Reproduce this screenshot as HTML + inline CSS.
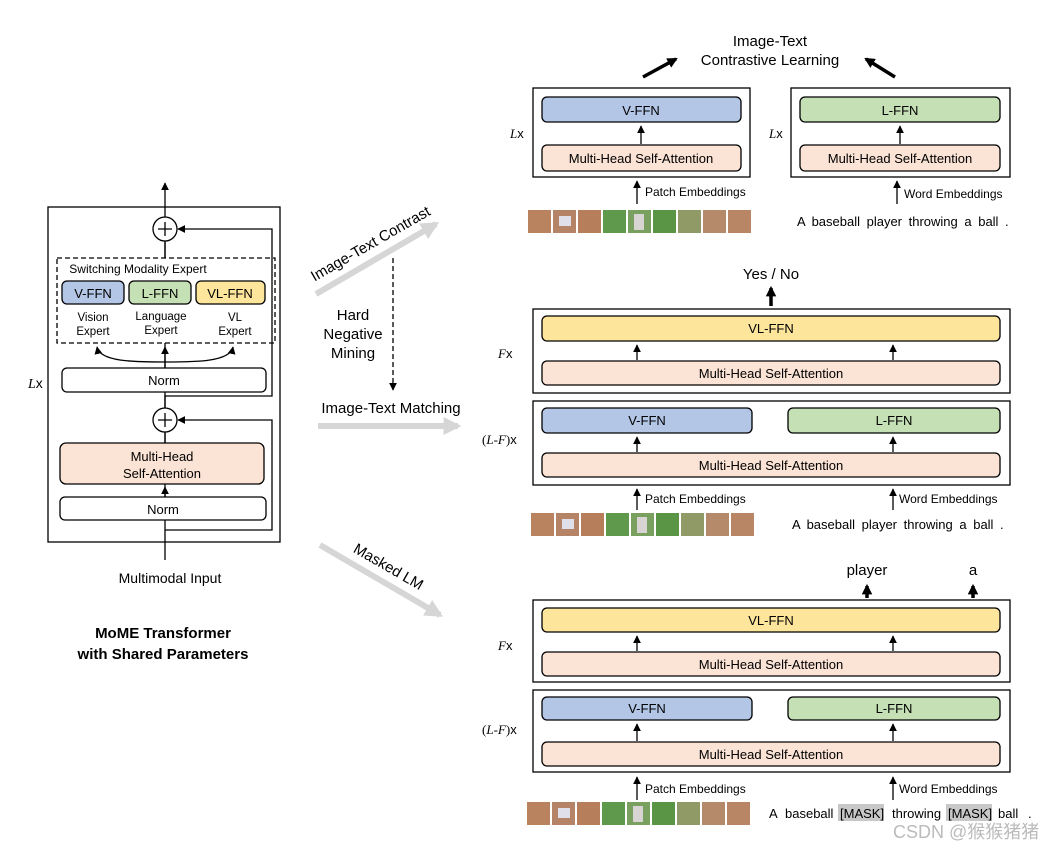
<!DOCTYPE html>
<html><head><meta charset="utf-8"><style>
html,body{margin:0;padding:0;background:#fff;}
svg{display:block;font-family:"Liberation Sans",sans-serif;}
</style></head><body>
<svg width="1052" height="849" viewBox="0 0 1052 849" xmlns="http://www.w3.org/2000/svg">
<defs>
<marker id="a" viewBox="0 0 10 10" refX="9" refY="5" markerWidth="6" markerHeight="6" orient="auto"><path d="M0,0 L10,5 L0,10 z" fill="#000"/></marker>
<marker id="g" viewBox="0 0 10 10" refX="8" refY="5" markerWidth="3" markerHeight="3" orient="auto"><path d="M0,0 L10,5 L0,10 z" fill="#d6d6d6"/></marker>
<marker id="b" viewBox="0 0 10 10" refX="8" refY="5" markerWidth="3" markerHeight="3" orient="auto"><path d="M0,0 L10,5 L0,10 z" fill="#000"/></marker>
<g id="patches">
<rect x="0" y="0" width="23" height="23" fill="#b98360"/>
<rect x="25" y="0" width="23" height="23" fill="#b58366"/><rect x="31" y="6" width="12" height="10" fill="#dfe0ea"/>
<rect x="50" y="0" width="23" height="23" fill="#b67e5a"/>
<rect x="75" y="0" width="23" height="23" fill="#5f9a4c"/>
<rect x="100" y="0" width="23" height="23" fill="#7aa060"/><rect x="106" y="4" width="10" height="16" fill="#d8d4d4"/>
<rect x="125" y="0" width="23" height="23" fill="#5a9546"/>
<rect x="150" y="0" width="23" height="23" fill="#8f9a66"/>
<rect x="175" y="0" width="23" height="23" fill="#b58a6a"/>
<rect x="200" y="0" width="23" height="23" fill="#b88565"/>
</g>
</defs>
<g fill="none" stroke="#000" stroke-width="1.3">
<rect x="48" y="207" width="232" height="335"/>
<line x1="165" y1="560" x2="165" y2="183" marker-end="url(#a)"/>
<circle cx="165" cy="229" r="12" fill="#fff"/>
<circle cx="165" cy="420" r="12" fill="#fff"/>
<path d="M165,229 m-7,0 h14 M165,222 v14 M165,420 m-7,0 h14 M165,413 v14"/>
<rect x="57" y="258" width="218" height="85" stroke-dasharray="5,3" fill="#fff"/>
<path d="M165,396 H272 V229 H178" marker-end="url(#a)"/>
<path d="M165,530 H272 V420 H178" marker-end="url(#a)"/>
<line x1="165" y1="368" x2="165" y2="347" marker-end="url(#a)"/>
<path d="M165,362 C135,362 100,362 97,347" marker-end="url(#a)"/>
<path d="M165,362 C195,362 230,362 233,347" marker-end="url(#a)"/>
<line x1="165" y1="497" x2="165" y2="487" marker-end="url(#a)"/>
<line x1="165" y1="408" x2="165" y2="395"/>
<line x1="165" y1="443" x2="165" y2="432"/>
<line x1="165" y1="258" x2="165" y2="241"/>
<rect x="62" y="281" width="62" height="23" rx="5" fill="#b4c6e6"/>
<rect x="129" y="281" width="62" height="23" rx="5" fill="#c6e0b6"/>
<rect x="196" y="281" width="69" height="23" rx="5" fill="#fde59c"/>
<rect x="62" y="368" width="204" height="24" rx="5" fill="#fff"/>
<rect x="60" y="443" width="204" height="41" rx="6" fill="#fbe3d5"/>
<rect x="60" y="497" width="206" height="23" rx="5" fill="#fff"/>
</g>
<g font-size="13" text-anchor="middle" fill="#000">
<text x="138" y="273" font-size="12">Switching Modality Expert</text>
<text x="93" y="298">V-FFN</text><text x="160" y="298">L-FFN</text><text x="230" y="298">VL-FFN</text>
<text x="93" y="321" font-size="11.5">Vision</text><text x="93" y="335" font-size="11.5">Expert</text>
<text x="161" y="320" font-size="11.5">Language</text><text x="161" y="334" font-size="11.5">Expert</text>
<text x="235" y="321" font-size="11.5">VL</text><text x="235" y="335" font-size="11.5">Expert</text>
<text x="164" y="385">Norm</text>
<text x="162" y="461">Multi-Head</text><text x="162" y="478">Self-Attention</text>
<text x="163" y="514">Norm</text>
<text x="170" y="583" font-size="14">Multimodal Input</text>
<text x="163" y="638" font-size="15" font-weight="bold">MoME Transformer</text>
<text x="163" y="659" font-size="15" font-weight="bold">with Shared Parameters</text>
</g>
<text x="28" y="388" font-size="14" font-family="Liberation Serif,serif"><tspan font-style="italic">L</tspan><tspan font-family="Liberation Sans,sans-serif">x</tspan></text>

<g stroke="#d6d6d6" stroke-width="6" fill="none">
<line x1="316" y1="294" x2="436" y2="224" marker-end="url(#g)"/>
<line x1="318" y1="426" x2="458" y2="426" marker-end="url(#g)"/>
<line x1="320" y1="545" x2="440" y2="615" marker-end="url(#g)"/>
</g>
<line x1="393" y1="258" x2="393" y2="390" stroke="#000" stroke-width="1.3" stroke-dasharray="5,3" marker-end="url(#a)"/>
<g font-size="15" text-anchor="middle">
<text transform="translate(373,248) rotate(-30)">Image-Text Contrast</text>
<text x="353" y="320">Hard</text><text x="353" y="339">Negative</text><text x="353" y="358">Mining</text>
<text x="391" y="413">Image-Text Matching</text>
<text transform="translate(386,571) rotate(30)">Masked LM</text>
<text x="770" y="46">Image-Text</text><text x="770" y="65">Contrastive Learning</text>
<text x="771" y="279">Yes / No</text>
<text x="867" y="575">player</text><text x="973" y="575">a</text>
</g>
<g stroke="#000" stroke-width="3.5" fill="none">
<line x1="643" y1="77" x2="676" y2="59" marker-end="url(#b)"/>
<line x1="895" y1="77" x2="866" y2="59" marker-end="url(#b)"/>
<line x1="771" y1="306" x2="771" y2="288" marker-end="url(#b)"/>
<line x1="867" y1="598" x2="867" y2="586" marker-end="url(#b)"/>
<line x1="973" y1="598" x2="973" y2="586" marker-end="url(#b)"/>
</g>

<g stroke="#000" stroke-width="1.3">
<rect x="533" y="88" width="217" height="89" fill="#fff"/>
<rect x="791" y="88" width="219" height="89" fill="#fff"/>
<rect x="542" y="97" width="199" height="25" rx="5" fill="#b4c6e6"/>
<rect x="542" y="145" width="199" height="26" rx="5" fill="#fbe3d5"/>
<rect x="800" y="97" width="200" height="25" rx="5" fill="#c6e0b6"/>
<rect x="800" y="145" width="200" height="26" rx="5" fill="#fbe3d5"/>
<rect x="533" y="309" width="477" height="84" fill="#fff"/>
<rect x="542" y="316" width="458" height="25" rx="5" fill="#fde59c"/>
<rect x="542" y="361" width="458" height="24" rx="5" fill="#fbe3d5"/>
<rect x="533" y="401" width="477" height="84" fill="#fff"/>
<rect x="542" y="408" width="210" height="25" rx="5" fill="#b4c6e6"/>
<rect x="788" y="408" width="212" height="25" rx="5" fill="#c6e0b6"/>
<rect x="542" y="453" width="458" height="24" rx="5" fill="#fbe3d5"/>
<rect x="533" y="600" width="477" height="82" fill="#fff"/>
<rect x="542" y="608" width="458" height="24" rx="5" fill="#fde59c"/>
<rect x="542" y="652" width="458" height="24" rx="5" fill="#fbe3d5"/>
<rect x="533" y="690" width="477" height="82" fill="#fff"/>
<rect x="542" y="697" width="210" height="23" rx="5" fill="#b4c6e6"/>
<rect x="788" y="697" width="212" height="23" rx="5" fill="#c6e0b6"/>
<rect x="542" y="742" width="458" height="24" rx="5" fill="#fbe3d5"/>
</g>
<g stroke="#000" stroke-width="1.3" fill="none">
<line x1="641" y1="144" x2="641" y2="126" marker-end="url(#a)"/>
<line x1="900" y1="144" x2="900" y2="126" marker-end="url(#a)"/>
<line x1="637" y1="204" x2="637" y2="181" marker-end="url(#a)"/>
<line x1="897" y1="204" x2="897" y2="181" marker-end="url(#a)"/>
<line x1="637" y1="360" x2="637" y2="345" marker-end="url(#a)"/>
<line x1="893" y1="360" x2="893" y2="345" marker-end="url(#a)"/>
<line x1="637" y1="452" x2="637" y2="437" marker-end="url(#a)"/>
<line x1="893" y1="452" x2="893" y2="437" marker-end="url(#a)"/>
<line x1="637" y1="510" x2="637" y2="489" marker-end="url(#a)"/>
<line x1="893" y1="510" x2="893" y2="489" marker-end="url(#a)"/>
<line x1="637" y1="651" x2="637" y2="636" marker-end="url(#a)"/>
<line x1="893" y1="651" x2="893" y2="636" marker-end="url(#a)"/>
<line x1="637" y1="741" x2="637" y2="724" marker-end="url(#a)"/>
<line x1="893" y1="741" x2="893" y2="724" marker-end="url(#a)"/>
<line x1="637" y1="800" x2="637" y2="777" marker-end="url(#a)"/>
<line x1="893" y1="800" x2="893" y2="777" marker-end="url(#a)"/>
</g>
<g font-size="13" text-anchor="middle">
<text x="641" y="115">V-FFN</text><text x="641" y="163">Multi-Head Self-Attention</text>
<text x="900" y="115">L-FFN</text><text x="900" y="163">Multi-Head Self-Attention</text>
<text x="771" y="333">VL-FFN</text><text x="771" y="378">Multi-Head Self-Attention</text>
<text x="647" y="425">V-FFN</text><text x="894" y="425">L-FFN</text><text x="771" y="470">Multi-Head Self-Attention</text>
<text x="771" y="625">VL-FFN</text><text x="771" y="669">Multi-Head Self-Attention</text>
<text x="647" y="713">V-FFN</text><text x="894" y="713">L-FFN</text><text x="771" y="759">Multi-Head Self-Attention</text>
</g>
<g font-size="12">
<text x="645" y="196">Patch Embeddings</text><text x="904" y="198">Word Embeddings</text>
<text x="645" y="503">Patch Embeddings</text><text x="899" y="503">Word Embeddings</text>
<text x="645" y="793">Patch Embeddings</text><text x="899" y="793">Word Embeddings</text>
</g>
<g font-size="13" font-family="Liberation Serif,serif">
<text x="510" y="138"><tspan font-style="italic">L</tspan><tspan font-family="Liberation Sans,sans-serif">x</tspan></text>
<text x="769" y="138"><tspan font-style="italic">L</tspan><tspan font-family="Liberation Sans,sans-serif">x</tspan></text>
<text x="498" y="358"><tspan font-style="italic">F</tspan><tspan font-family="Liberation Sans,sans-serif">x</tspan></text>
<text x="482" y="444">(<tspan font-style="italic">L</tspan>-<tspan font-style="italic">F</tspan>)<tspan font-family="Liberation Sans,sans-serif">x</tspan></text>
<text x="498" y="650"><tspan font-style="italic">F</tspan><tspan font-family="Liberation Sans,sans-serif">x</tspan></text>
<text x="482" y="734">(<tspan font-style="italic">L</tspan>-<tspan font-style="italic">F</tspan>)<tspan font-family="Liberation Sans,sans-serif">x</tspan></text>
</g>
<use href="#patches" x="528" y="210"/>
<use href="#patches" x="531" y="513"/>
<use href="#patches" x="527" y="802"/>
<g font-size="13" word-spacing="3">
<text x="797" y="226">A baseball player throwing a ball .</text>
<text x="792" y="529">A baseball player throwing a ball .</text>
</g>
<rect x="838" y="804" width="46" height="17" fill="#c8c8c8"/>
<rect x="946" y="804" width="46" height="17" fill="#c8c8c8"/>
<g font-size="13">
<text x="769" y="818">A</text><text x="785" y="818">baseball</text><text x="840" y="818">[MASK]</text>
<text x="892" y="818">throwing</text><text x="948" y="818">[MASK]</text><text x="998" y="818">ball</text><text x="1028" y="818">.</text>
</g>
<text x="893" y="838" font-size="18" fill="#bbb" font-family="Liberation Sans,'Noto Sans CJK SC',sans-serif">CSDN @猴猴猪猪</text>
</svg>
</body></html>
